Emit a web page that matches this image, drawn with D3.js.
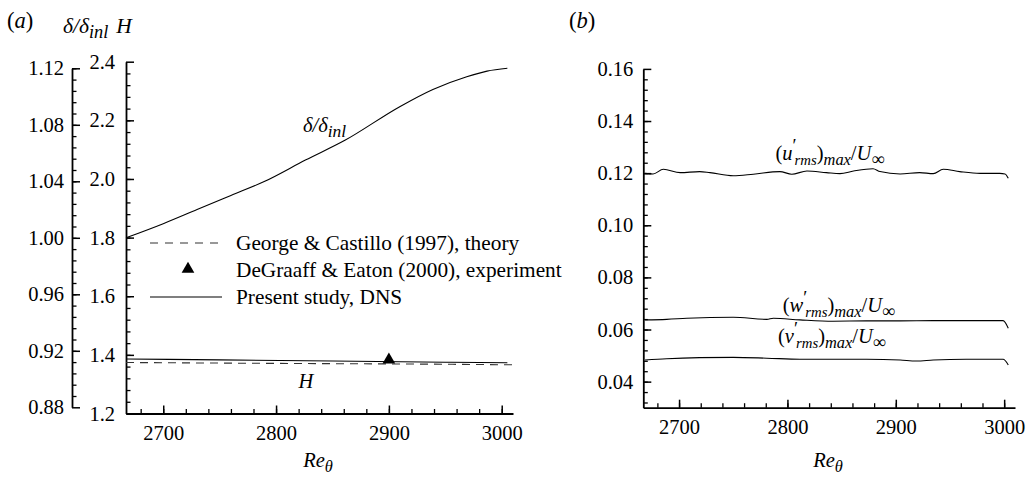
<!DOCTYPE html>
<html>
<head>
<meta charset="utf-8">
<script src="https://cdn.jsdelivr.net/npm/d3@7"></script>
</head>
<body style="margin:0; background:#fff">
<div id="chart"></div>
<script>
// ---- data ----
// panel (a): boundary layer thickness and shape factor vs Re_theta
var reDelta = [2667, 2700, 2730, 2760, 2790, 2826, 2861, 2910, 2939, 2969, 2987, 3005];
var delta   = [1.000, 1.010, 1.020, 1.030, 1.040, 1.055, 1.069, 1.093, 1.105, 1.114, 1.118, 1.120];

var reH     = [2667, 2750, 2850, 2950, 3005];
var hDns    = [1.386, 1.383, 1.379, 1.375, 1.373];
var reTheory = [2667, 2750, 2850, 2950, 3010];
var hTheory = [1.374, 1.372, 1.370, 1.368, 1.366];
var reExp   = [2900];
var hExp    = [1.380];

// panel (b): max rms velocity fluctuations
var reU = [2668.6, 2676, 2685.5, 2701, 2719, 2728.5, 2750, 2768.5, 2793, 2804, 2818, 2836, 2848.5, 2861, 2879, 2885.4, 2904, 2922, 2934.6, 2943.8, 2959, 2977.7, 2996, 3000.8, 3003.8];
var uRms = [0.1199, 0.1197, 0.1215, 0.1202, 0.1206, 0.1202, 0.1190, 0.1196, 0.1206, 0.1196, 0.1208, 0.1202, 0.1198, 0.1208, 0.1217, 0.1206, 0.1197, 0.1202, 0.1198, 0.1215, 0.1206, 0.1199, 0.1199, 0.1197, 0.1180];
var reW = [2668.6, 2688.6, 2707, 2750, 2781, 2787, 2811.6, 2842, 2873, 2904, 2934.6, 2965, 2999, 3003.8];
var wRms = [0.0637, 0.0639, 0.0643, 0.0647, 0.0639, 0.0643, 0.0637, 0.0632, 0.0633, 0.0633, 0.0634, 0.0634, 0.0634, 0.0605];
var reV = [2668.6, 2688.6, 2719, 2750, 2781, 2811.6, 2842, 2873, 2904, 2919, 2934.6, 2965, 2999, 3003.8];
var vRms = [0.0483, 0.0488, 0.0492, 0.0493, 0.0490, 0.0486, 0.0486, 0.0486, 0.0483, 0.0479, 0.0483, 0.0486, 0.0486, 0.0464];

var xTicks = [2700, 2800, 2900, 3000];
var deltaTicks = [0.88, 0.92, 0.96, 1.00, 1.04, 1.08, 1.12];
var hTicks = [1.2, 1.4, 1.6, 1.8, 2.0, 2.2, 2.4];
var rmsTicks = [0.04, 0.06, 0.08, 0.10, 0.12, 0.14, 0.16];

var legendLabels = ["George & Castillo (1997), theory", "DeGraaff & Eaton (2000), experiment", "Present study, DNS"];

var FONT = "'Liberation Serif', 'Tinos', 'FreeSerif', serif";

// ---- svg ----
var svg = d3.select("#chart")
  .append("svg")
    .attr("width", 1032)
    .attr("height", 478)
    .style("font-family", FONT);

// pick a font size so that "2800" is ~41px wide, like in the figure
var probe = svg.append("text").style("font-family", FONT).attr("font-size", "20px").text("2800");
var FS = 20 * 41 / probe.node().getComputedTextLength();
probe.remove();
FS = Math.max(15, Math.min(21, FS));

// writes a text built from pieces: {t, i: italic, s: 'sub'|'sup'}
function richText(g, x, y, parts, anchor, size) {
  var fs = size || FS;
  var t = g.append("text")
    .attr("x", x).attr("y", y)
    .attr("text-anchor", anchor || "start")
    .attr("font-size", fs + "px")
    .attr("fill", "#000");
  var cur = 0;
  parts.forEach(function(p) {
    var off = p.s == "sub" ? 5 : p.s == "sup" ? -8 : 0;
    t.append("tspan")
      .attr("dy", off - cur)
      .attr("dx", p.dx || 0)
      .attr("font-size", p.s ? (fs * (p.k || 0.72)) + "px" : null)
      .attr("font-style", p.i ? "italic" : "normal")
      .text(p.t);
    cur = off;
  });
  return t;
}

function styleAxis(g, major) {
  g.attr("font-size", FS + "px").attr("font-family", null);
  g.selectAll("text").attr("fill", "#000");
  g.selectAll("line").attr("stroke", "#000").attr("stroke-width", major ? 1.5 : 1.3);
  g.select(".domain").attr("stroke", "#000").attr("stroke-width", 1.8);
  if (!major) g.select(".domain").remove();
}

// ---- panel (a) ----
var xA = d3.scaleLinear().domain([2667, 3010]).range([126, 513]);
var yH = d3.scaleLinear().domain([1.2, 2.4]).range([413.5, 61.7]);
var yD = d3.scaleLinear().domain([0.88, 1.12]).range([407.3, 68.3]);

// bottom axis, minor then major
svg.append("g")
  .attr("transform", "translate(0," + yH.range()[0] + ")")
  .call(d3.axisBottom(xA).tickValues(d3.range(2680, 3010, 20)).tickFormat("").tickSizeInner(-4.5).tickSizeOuter(0))
  .call(styleAxis, false);
svg.append("g")
  .attr("transform", "translate(0," + yH.range()[0] + ")")
  .call(d3.axisBottom(xA).tickValues(xTicks).tickFormat(d3.format("d")).tickSizeInner(-8).tickSizeOuter(0).tickPadding(12))
  .call(styleAxis, true);

// H axis
svg.append("g")
  .attr("transform", "translate(" + xA.range()[0] + ",0)")
  .call(d3.axisLeft(yH).tickValues(d3.range(1.24, 2.4, 0.04)).tickFormat("").tickSizeInner(-4.5).tickSizeOuter(0))
  .call(styleAxis, false);
svg.append("g")
  .attr("transform", "translate(" + xA.range()[0] + ",0)")
  .call(d3.axisLeft(yH).tickValues(hTicks).tickFormat(d3.format(".1f")).tickSizeInner(-8).tickSizeOuter(0).tickPadding(11))
  .call(styleAxis, true);

// delta axis (outer)
svg.append("g")
  .attr("transform", "translate(72,0)")
  .call(d3.axisLeft(yD).tickValues(d3.range(0.888, 1.12, 0.008)).tickFormat("").tickSizeInner(-4.5).tickSizeOuter(0))
  .call(styleAxis, false);
svg.append("g")
  .attr("transform", "translate(72,0)")
  .call(d3.axisLeft(yD).tickValues(deltaTicks).tickFormat(d3.format(".2f")).tickSizeInner(-8).tickSizeOuter(0).tickPadding(8))
  .call(styleAxis, true);

// curves
var lineDelta = d3.line().x((d, i) => xA(reDelta[i])).y(d => yD(d)).curve(d3.curveMonotoneX);
svg.append("path").datum(delta).attr("d", lineDelta)
  .attr("fill", "none").attr("stroke", "#000").attr("stroke-width", 1.1);

var lineHd = d3.line().x((d, i) => xA(reH[i])).y(d => yH(d)).curve(d3.curveMonotoneX);
svg.append("path").datum(hDns).attr("d", lineHd)
  .attr("fill", "none").attr("stroke", "#000").attr("stroke-width", 1.1);

var lineHt = d3.line().x((d, i) => xA(reTheory[i])).y(d => yH(d)).curve(d3.curveMonotoneX);
svg.append("path").datum(hTheory).attr("d", lineHt)
  .attr("fill", "none").attr("stroke", "#333").attr("stroke-width", 1.1)
  .attr("stroke-dasharray", "8,6");

var tri = d3.symbol().type(d3.symbolTriangle).size(70);
svg.selectAll(".exp").data(hExp).enter().append("path")
  .attr("class", "exp")
  .attr("d", tri)
  .attr("transform", (d, i) => "translate(" + xA(reExp[i]) + "," + (yH(d) - 1) + ")")
  .attr("fill", "#000");

// legend
var leg = svg.append("g");
var legY = [243, 270, 297];
leg.append("line").attr("x1", 150).attr("x2", 222).attr("y1", legY[0]).attr("y2", legY[0])
  .attr("stroke", "#333").attr("stroke-width", 1.1).attr("stroke-dasharray", "8,7");
leg.append("path").attr("d", tri).attr("transform", "translate(188," + (legY[1] - 1) + ")").attr("fill", "#000");
leg.append("line").attr("x1", 150).attr("x2", 222).attr("y1", legY[2]).attr("y2", legY[2])
  .attr("stroke", "#000").attr("stroke-width", 1.1);
leg.selectAll("text").data(legendLabels).enter().append("text")
  .attr("x", 236).attr("y", (d, i) => legY[i]).attr("dy", "0.33em")
  .attr("font-size", (FS * 1.04) + "px").text(d => d);

// in-plot labels
richText(svg, 303, 132, [{t: "δ/δ", i: true}, {t: "inl", i: true, s: "sub", k: 0.85}]);
richText(svg, 306, 388, [{t: "H", i: true}], "middle");

// headings
richText(svg, 7, 28, [{t: "("}, {t: "a", i: true}, {t: ")"}], "start", FS * 1.1);
richText(svg, 63, 33, [{t: "δ/δ", i: true}, {t: "inl", i: true, s: "sub", k: 0.85}, {t: "H", i: true, dx: 8}], "start", FS * 1.05);
richText(svg, 318, 467, [{t: "Re", i: true}, {t: "θ", i: true, s: "sub", k: 0.8}], "middle");

// ---- panel (b) ----
var xB = d3.scaleLinear().domain([2667, 3010]).range([643.3, 1015]);
var yB = d3.scaleLinear().domain([0.03, 0.16]).range([407.7, 68.9]);

svg.append("g")
  .attr("transform", "translate(0," + yB.range()[0] + ")")
  .call(d3.axisBottom(xB).tickValues(d3.range(2680, 3010, 20)).tickFormat("").tickSizeInner(-4.5).tickSizeOuter(0))
  .call(styleAxis, false);
svg.append("g")
  .attr("transform", "translate(0," + yB.range()[0] + ")")
  .call(d3.axisBottom(xB).tickValues(xTicks).tickFormat(d3.format("d")).tickSizeInner(-8).tickSizeOuter(0).tickPadding(12))
  .call(styleAxis, true);

svg.append("g")
  .attr("transform", "translate(" + xB.range()[0] + ",0)")
  .call(d3.axisLeft(yB).tickValues(d3.range(0.032, 0.16, 0.004)).tickFormat("").tickSizeInner(-4.5).tickSizeOuter(0))
  .call(styleAxis, false);
svg.append("g")
  .attr("transform", "translate(" + xB.range()[0] + ",0)")
  .call(d3.axisLeft(yB).tickValues(rmsTicks).tickFormat(d3.format(".2f")).tickSizeInner(-8).tickSizeOuter(0).tickPadding(10))
  .call(styleAxis, true);

function rmsLine(xs, ys) {
  svg.append("path").datum(ys)
    .attr("d", d3.line().x((d, i) => xB(xs[i])).y(d => yB(d)).curve(d3.curveMonotoneX))
    .attr("fill", "none").attr("stroke", "#000").attr("stroke-width", 1.1);
}
rmsLine(reU, uRms);
rmsLine(reW, wRms);
rmsLine(reV, vRms);

function rmsLabel(x, y, comp) {
  richText(svg, x, y, [{t: "("}, {t: comp, i: true}, {t: "′", s: "sup", k: 0.9}, {t: "rms", i: true, s: "sub", dx: -2}, {t: ")"}, {t: "max", i: true, s: "sub", k: 0.8}, {t: "/"}, {t: "U", i: true}, {t: "∞", s: "sub", k: 0.9}], "middle");
}
rmsLabel(830, 160, "u");
rmsLabel(839, 312, "w");
rmsLabel(832, 343, "v");

richText(svg, 569, 28, [{t: "("}, {t: "b", i: true}, {t: ")"}], "start", FS * 1.1);
richText(svg, 828, 467, [{t: "Re", i: true}, {t: "θ", i: true, s: "sub", k: 0.8}], "middle");

// set the face on every text node directly
svg.selectAll("text, tspan").style("font-family", FONT);
</script>
</body>
</html>
